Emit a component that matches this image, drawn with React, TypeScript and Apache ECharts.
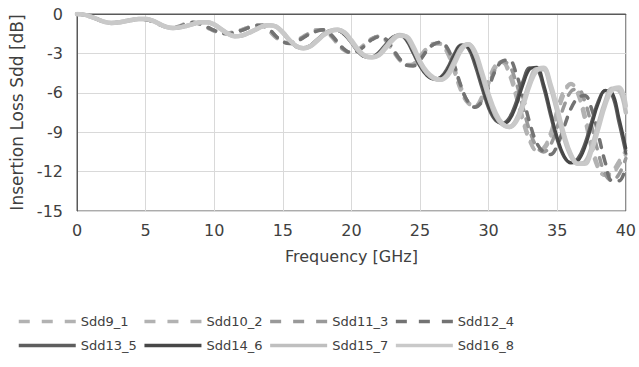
import React, { useEffect, useRef } from "react";
import * as echarts from "echarts";

const freq = [
  0, 0.5, 1, 1.5, 2, 2.5, 3, 3.5, 4, 4.5,
  5, 5.5, 6, 6.5, 7, 7.5, 8, 8.5, 9, 9.5,
  10, 10.5, 11, 11.5, 12, 12.5, 13, 13.5, 14, 14.5,
  15, 15.5, 16, 16.5, 17, 17.5, 18, 18.5, 19, 19.5,
  20, 20.5, 21, 21.5, 22, 22.5, 23, 23.5, 24, 24.5,
  25, 25.5, 26, 26.5, 27, 27.5, 28, 28.5, 29, 29.5,
  30, 30.5, 31, 31.5, 32, 32.5, 33, 33.5, 34, 34.5,
  35, 35.5, 36, 36.5, 37, 37.5, 38, 38.5, 39, 39.5,
  40,
];

const sdd9_1 = [
  0, -0.05, -0.2, -0.4, -0.6, -0.68, -0.65, -0.55, -0.45, -0.4,
  -0.42, -0.55, -0.8, -1.0, -1.05, -0.9, -0.7, -0.65, -0.8, -1.05,
  -1.3, -1.45, -1.45, -1.35, -1.2, -1.0, -0.85, -0.9, -1.3, -1.8,
  -2.15, -2.2, -2.0, -1.7, -1.4, -1.2, -1.25, -1.7, -2.3, -2.8,
  -2.9, -2.7, -2.25, -1.85, -1.7, -2.05, -2.8, -3.5, -3.9, -3.8,
  -3.2, -2.6, -2.25, -2.3, -3.0, -4.4, -5.9, -6.8, -7.0, -6.3,
  -5.0, -3.9, -3.7, -4.6, -6.3, -8.2, -9.7, -10.4, -10.2, -9.1,
  -7.3, -5.8, -5.3, -6.1, -8.0, -10.2, -11.8, -12.3, -12.0, -11.2,
  -10.4,
];

const sdd10_2 = [
  0, -0.05, -0.2, -0.4, -0.6, -0.68, -0.65, -0.55, -0.45, -0.4,
  -0.42, -0.55, -0.8, -1.0, -1.05, -0.9, -0.7, -0.65, -0.8, -1.05,
  -1.3, -1.45, -1.45, -1.35, -1.2, -1.0, -0.85, -0.9, -1.3, -1.8,
  -2.1, -2.2, -2.05, -1.75, -1.45, -1.2, -1.2, -1.6, -2.2, -2.75,
  -2.9, -2.75, -2.35, -1.9, -1.7, -1.95, -2.65, -3.4, -3.85, -3.85,
  -3.35, -2.7, -2.3, -2.25, -2.8, -4.1, -5.6, -6.7, -7.0, -6.5,
  -5.3, -4.1, -3.65, -4.3, -5.9, -7.9, -9.5, -10.4, -10.3, -9.4,
  -7.7, -6.1, -5.35, -5.8, -7.6, -9.8, -11.6, -12.3, -12.2, -11.5,
  -10.7,
];

const sdd11_3 = [
  0, -0.05, -0.2, -0.4, -0.6, -0.68, -0.65, -0.55, -0.45, -0.4,
  -0.42, -0.55, -0.78, -0.98, -1.05, -0.95, -0.75, -0.65, -0.75, -1.0,
  -1.25, -1.45, -1.5, -1.4, -1.25, -1.05, -0.9, -0.85, -1.15, -1.7,
  -2.1, -2.2, -2.05, -1.75, -1.45, -1.25, -1.2, -1.6, -2.2, -2.75,
  -2.95, -2.75, -2.35, -1.9, -1.7, -1.95, -2.7, -3.45, -3.9, -3.9,
  -3.45, -2.75, -2.3, -2.2, -2.7, -4.0, -5.6, -6.7, -7.05, -6.6,
  -5.4, -4.2, -3.6, -3.9, -5.2, -7.1, -8.9, -10.1, -10.5, -10.0,
  -8.6, -7.0, -5.9, -5.7, -6.6, -8.5, -10.6, -12.2, -12.7, -12.2,
  -11.0,
];

const sdd12_4 = [
  0, -0.05, -0.2, -0.4, -0.6, -0.68, -0.65, -0.55, -0.45, -0.4,
  -0.42, -0.55, -0.78, -0.98, -1.05, -0.95, -0.75, -0.65, -0.75, -1.0,
  -1.25, -1.45, -1.5, -1.4, -1.25, -1.05, -0.9, -0.85, -1.15, -1.7,
  -2.1, -2.25, -2.1, -1.8, -1.5, -1.3, -1.2, -1.55, -2.15, -2.7,
  -2.95, -2.8, -2.4, -1.95, -1.75, -1.9, -2.6, -3.4, -3.9, -3.95,
  -3.5, -2.8, -2.3, -2.15, -2.6, -3.9, -5.5, -6.7, -7.1, -6.7,
  -5.6, -4.3, -3.6, -3.5, -4.5, -6.3, -8.3, -9.8, -10.5, -10.7,
  -10.0, -8.6, -7.2, -6.4, -6.2, -7.2, -9.2, -11.3, -12.7, -12.7,
  -11.6,
];

const sdd13_5 = [
  0, -0.05, -0.2, -0.4, -0.6, -0.68, -0.65, -0.55, -0.45, -0.38,
  -0.38, -0.5, -0.75, -0.98, -1.07, -1.02, -0.9, -0.75, -0.63, -0.62,
  -0.8, -1.15, -1.5, -1.7, -1.65, -1.45, -1.2, -0.95, -0.85, -0.95,
  -1.45, -2.05, -2.5, -2.6, -2.4, -1.95, -1.5, -1.25, -1.25, -1.6,
  -2.2, -2.9, -3.25, -3.25, -2.9, -2.3, -1.75, -1.6, -2.0, -3.0,
  -4.0, -4.7, -4.95, -4.8, -4.1, -3.0, -2.35, -2.6, -3.9, -5.6,
  -7.2, -8.1, -8.3, -7.9, -6.7, -5.1, -4.1, -4.2, -5.6, -7.7,
  -9.6, -10.9, -11.3, -11.0, -9.9, -8.2, -6.6, -5.8, -6.2, -8.3,
  -10.6,
];

const sdd14_6 = [
  0, -0.05, -0.2, -0.4, -0.6, -0.68, -0.65, -0.55, -0.45, -0.38,
  -0.38, -0.5, -0.75, -0.98, -1.07, -1.02, -0.9, -0.75, -0.63, -0.62,
  -0.8, -1.15, -1.5, -1.7, -1.65, -1.45, -1.2, -0.95, -0.85, -0.95,
  -1.45, -2.05, -2.5, -2.6, -2.4, -1.95, -1.5, -1.25, -1.25, -1.55,
  -2.15, -2.85, -3.25, -3.3, -3.0, -2.4, -1.8, -1.6, -1.9, -2.85,
  -3.9, -4.65, -4.95, -4.85, -4.3, -3.2, -2.4, -2.5, -3.6, -5.3,
  -7.0, -8.0, -8.35, -8.1, -7.0, -5.4, -4.2, -4.05, -5.3, -7.4,
  -9.4, -10.8, -11.35, -11.2, -10.2, -8.5, -6.8, -5.85, -6.0, -7.9,
  -10.2,
];

const sdd15_7 = [
  0, -0.05, -0.2, -0.4, -0.6, -0.68, -0.65, -0.55, -0.45, -0.38,
  -0.38, -0.5, -0.75, -0.98, -1.07, -1.02, -0.9, -0.75, -0.63, -0.62,
  -0.8, -1.15, -1.5, -1.7, -1.65, -1.45, -1.2, -0.95, -0.85, -0.95,
  -1.4, -2.0, -2.45, -2.6, -2.45, -2.0, -1.55, -1.27, -1.2, -1.45,
  -2.1, -2.8, -3.2, -3.3, -3.1, -2.5, -1.9, -1.6, -1.75, -2.6,
  -3.7, -4.5, -4.9, -5.0, -4.6, -3.6, -2.6, -2.3, -3.0, -4.6,
  -6.3, -7.7, -8.4, -8.6, -8.1, -6.8, -5.2, -4.2, -4.2, -5.5,
  -7.4, -9.4, -10.8, -11.4, -11.3, -10.2, -8.4, -6.7, -5.7, -5.8,
  -7.5,
];

const sdd16_8 = [
  0, -0.05, -0.2, -0.4, -0.6, -0.68, -0.65, -0.55, -0.45, -0.38,
  -0.38, -0.5, -0.75, -0.98, -1.07, -1.02, -0.9, -0.75, -0.63, -0.62,
  -0.8, -1.15, -1.5, -1.7, -1.65, -1.45, -1.2, -0.95, -0.85, -0.95,
  -1.4, -2.0, -2.45, -2.6, -2.45, -2.05, -1.6, -1.3, -1.2, -1.4,
  -2.0, -2.7, -3.2, -3.3, -3.15, -2.6, -2.0, -1.65, -1.7, -2.45,
  -3.6, -4.4, -4.85, -5.0, -4.7, -3.8, -2.75, -2.3, -2.85, -4.4,
  -6.1, -7.5, -8.35, -8.6, -8.2, -7.0, -5.4, -4.3, -4.1, -5.3,
  -7.2, -9.2, -10.7, -11.4, -11.4, -10.4, -8.7, -6.9, -5.8, -5.6,
  -7.0,
];

const seriesNames = [
  "Sdd9_1", "Sdd10_2", "Sdd11_3", "Sdd12_4",
  "Sdd13_5", "Sdd14_6", "Sdd15_7", "Sdd16_8",
];
const seriesValues = [
  sdd9_1, sdd10_2, sdd11_3, sdd12_4,
  sdd13_5, sdd14_6, sdd15_7, sdd16_8,
];
const seriesColors = [
  "#b2b2b2", "#b2b2b2", "#999999", "#737373",
  "#5e5e5e", "#474747", "#bfbfbf", "#c9c9c9",
];
const seriesDashed = [true, true, true, true, false, false, false, false];
const seriesWidths = [3.5, 3.5, 3.5, 3.5, 3, 3, 4.5, 4.5];

const xTicks = { min: 0, max: 40, interval: 5 };
const yTicks = { min: -15, max: 0, interval: 3 };

const FONT = "DejaVu Sans";
const TEXT_COLOR = "#404040";

export default function App() {
  const ref = useRef<HTMLDivElement>(null);

  useEffect(() => {
    if (!ref.current) return;
    const chart = echarts.init(ref.current, undefined, { renderer: "svg" });

    const series = seriesNames.map((name, i) => ({
      name,
      type: "line",
      smooth: 0.4,
      symbol: "none",
      data: freq.map((f, j) => [f, seriesValues[i][j]]),
      lineStyle: {
        color: seriesColors[i],
        width: seriesWidths[i],
        type: seriesDashed[i] ? [8, 9] : "solid",
        cap: "round",
      },
      itemStyle: { color: seriesColors[i] },
    }));

    const legends = seriesNames.map((name, i) => ({
      data: [name],
      left: 17 + (i % 4) * 125.7,
      top: i < 4 ? 315 : 339,
      itemWidth: 57,
      itemHeight: 14,
      itemGap: 5,
      padding: 0,
      itemStyle: { opacity: 0, borderWidth: 0 },
      lineStyle: seriesDashed[i]
        ? { width: 3.5, type: [11, 12], cap: "butt" }
        : { width: 3.5, type: "solid", cap: "butt" },
      textStyle: { fontFamily: FONT, fontSize: 13, color: TEXT_COLOR },
      selectedMode: false,
    }));

    chart.setOption({
      animation: false,
      backgroundColor: "#ffffff",
      grid: {
        left: 74,
        top: 14,
        right: 8,
        bottom: 156,
        show: true,
        borderColor: "#595959",
        borderWidth: 1,
        containLabel: false,
      },
      legend: legends,
      xAxis: {
        type: "value",
        min: xTicks.min,
        max: xTicks.max,
        interval: xTicks.interval,
        name: "Frequency [GHz]",
        nameLocation: "middle",
        nameGap: 37,
        nameTextStyle: { fontFamily: FONT, fontSize: 16, color: TEXT_COLOR },
        axisLine: { show: true, lineStyle: { color: "#595959", width: 1 } },
        axisTick: { show: false },
        axisLabel: { fontFamily: FONT, fontSize: 16, color: TEXT_COLOR, margin: 11 },
        splitLine: { show: true, lineStyle: { color: "#d9d9d9", width: 1 } },
      },
      yAxis: {
        type: "value",
        min: yTicks.min,
        max: yTicks.max,
        interval: yTicks.interval,
        name: "Insertion Loss Sdd [dB]",
        nameLocation: "middle",
        nameGap: 52,
        nameTextStyle: { fontFamily: FONT, fontSize: 17, color: TEXT_COLOR },
        axisLine: { show: true, lineStyle: { color: "#595959", width: 1 } },
        axisTick: { show: false },
        axisLabel: { fontFamily: FONT, fontSize: 16, color: TEXT_COLOR, margin: 14 },
        splitLine: { show: true, lineStyle: { color: "#d9d9d9", width: 1 } },
      },
      series,
    });

    return () => chart.dispose();
  }, []);

  return (
    <div
      ref={ref}
      style={{ position: "fixed", left: 0, top: 0, width: 639, height: 367, background: "#fff" }}
    />
  );
}
